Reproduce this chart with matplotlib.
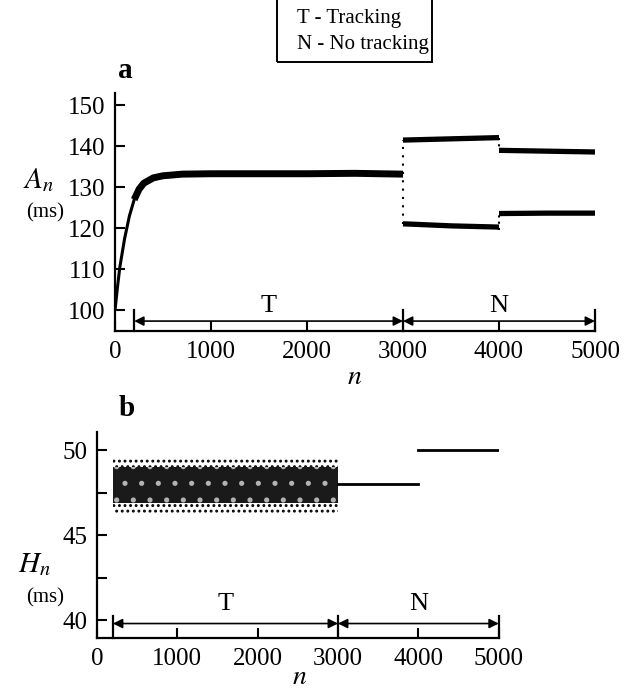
import numpy as np
import matplotlib
matplotlib.use('Agg')
from matplotlib import pyplot as plt
from matplotlib.patches import Rectangle

plt.rcParams['font.family'] = ['Liberation Serif', 'DejaVu Serif']
plt.rcParams['mathtext.fontset'] = 'stix'
plt.rcParams['hatch.color'] = 'black'
plt.rcParams['hatch.linewidth'] = 1.3

# panel a - A_n while tracking
n_track = [0, 25, 50, 100, 150, 200, 250, 300, 400, 500, 700, 1000, 1500, 2000, 2500, 3000]
a_track = [100, 105.5, 110.5, 117.5, 123, 127, 129.5, 131, 132.3, 132.8, 133.2, 133.3, 133.3, 133.3, 133.4, 133.2]
# panel a - no tracking, two branches
n_free1 = [3000, 3500, 4000]
a_upper1 = [141.5, 141.8, 142.1]
a_lower1 = [121.1, 120.6, 120.3]
n_free2 = [4000, 4500, 5000]
a_upper2 = [139.0, 138.8, 138.6]
a_lower2 = [123.6, 123.7, 123.7]

# panel b - H_n
n_cloud = [200, 3000]
h_core_lo = [46.9, 46.9]
h_core_hi = [49.0, 49.0]
h_spread_lo = [46.3, 46.3]
h_spread_hi = [49.6, 49.6]
n_hfree1 = [3000, 4000]
h_free1 = [48.0, 48.0]
n_hfree2 = [4000, 5000]
h_free2 = [50.0, 50.0]

phases = [(200, 3000, 'T'), (3000, 5000, 'N')]

fig = plt.figure(figsize=(6.25, 6.88), dpi=100)
ax_a = fig.add_axes([0.184, 0.519, 0.768, 0.346])
ax_b = fig.add_axes([0.155, 0.0727, 0.643, 0.299])


def style(ax, yticks, ylim):
    for s in ['top', 'right']:
        ax.spines[s].set_visible(False)
    for s in ['left', 'bottom']:
        ax.spines[s].set_linewidth(1.6)
    ax.set_xlim(0, 5000)
    ax.set_ylim(*ylim)
    ax.set_xticks([0, 1000, 2000, 3000, 4000, 5000])
    ax.set_yticks(yticks)
    ax.tick_params(direction='in', length=7, width=1.5, labelsize=18, pad=7)


def phase_arrows(ax, y, ybar, ylab):
    y0 = ax.get_ylim()[0]
    for a, b, lab in phases:
        ax.annotate('', xy=(a, y), xytext=(b, y),
                    arrowprops=dict(arrowstyle='<|-|>', lw=1.2, color='k',
                                    mutation_scale=14, shrinkA=0, shrinkB=0))
        ax.text((a + b) / 2, ylab, lab, ha='center', va='bottom', fontsize=19)
    for x in [200, 3000, 5000]:
        ax.plot([x, x], [y0, ybar], color='k', lw=1.6, clip_on=False)


# panel a
style(ax_a, [100, 110, 120, 130, 140, 150], (95, 153))
ax_a.plot(n_track, a_track, color='k', lw=2.2, solid_capstyle='butt')
ax_a.plot(n_track[5:], a_track[5:], color='k', lw=5, solid_capstyle='butt')
for nn, up, lo in [(n_free1, a_upper1, a_lower1), (n_free2, a_upper2, a_lower2)]:
    ax_a.plot(nn, up, color='k', lw=3.8, solid_capstyle='butt')
    ax_a.plot(nn, lo, color='k', lw=3.8, solid_capstyle='butt')
ax_a.plot([3000, 3000], [a_lower1[0], a_upper1[0]], color='k', lw=1.5, ls=(0, (1, 3)))
ax_a.plot([4000, 4000], [a_lower1[-1] - 0.8, a_lower2[0]], color='k', lw=1.5, ls=(0, (1, 2)))
ax_a.plot([4000, 4000], [a_upper1[-1], a_upper2[0]], color='k', lw=1.5, ls=(0, (1, 2)))
phase_arrows(ax_a, 97.4, 100.2, 98.3)

# panel b
style(ax_b, [40, 45, 50], (38.95, 51.05))
ax_b.set_yticks([42.5, 47.5], minor=True)
ax_b.tick_params(which='minor', direction='in', length=7, width=1.5)
ax_b.fill_between(n_cloud, h_spread_lo, h_spread_hi, facecolor='none',
                  edgecolor='black', hatch='...', lw=0)
ax_b.fill_between(n_cloud, h_core_lo, h_core_hi, facecolor='0.1',
                  edgecolor='0.7', hatch='.', lw=0)
ax_b.plot(n_hfree1, h_free1, color='k', lw=2)
ax_b.plot(n_hfree2, h_free2, color='k', lw=2)
phase_arrows(ax_b, 39.8, 40.25, 40.3)

# labels
fig.text(125 / 625, 1 - 71 / 688, 'a', fontsize=21, fontweight='bold', ha='center', va='center')
fig.text(127 / 625, 1 - 408 / 688, 'b', fontsize=21, fontweight='bold', ha='center', va='center')
fig.text(38 / 625, 1 - 180 / 688, r'$A_n$', fontsize=21, ha='center', va='center')
fig.text(45 / 625, 1 - 213 / 688, '(ms)', fontsize=15, ha='center', va='center')
fig.text(34 / 625, 1 - 565 / 688, r'$H_n$', fontsize=21, ha='center', va='center')
fig.text(45 / 625, 1 - 598 / 688, '(ms)', fontsize=15, ha='center', va='center')
fig.text(355 / 625, 1 - 377 / 688, r'$n$', fontsize=20, ha='center', va='center')
fig.text(300 / 625, 1 - 677 / 688, r'$n$', fontsize=20, ha='center', va='center')

# key box at the top
fig.patches.append(Rectangle((277 / 625, 1 - 62 / 688), 155 / 625, 80 / 688,
                             transform=fig.transFigure, fill=False, lw=1.4,
                             edgecolor='k'))
fig.text(297 / 625, 1 - 18 / 688, 'T - Tracking', fontsize=15, ha='left', va='center')
fig.text(297 / 625, 1 - 45 / 688, 'N - No tracking', fontsize=15, ha='left', va='center')

fig.savefig('out.png', dpi=100)
